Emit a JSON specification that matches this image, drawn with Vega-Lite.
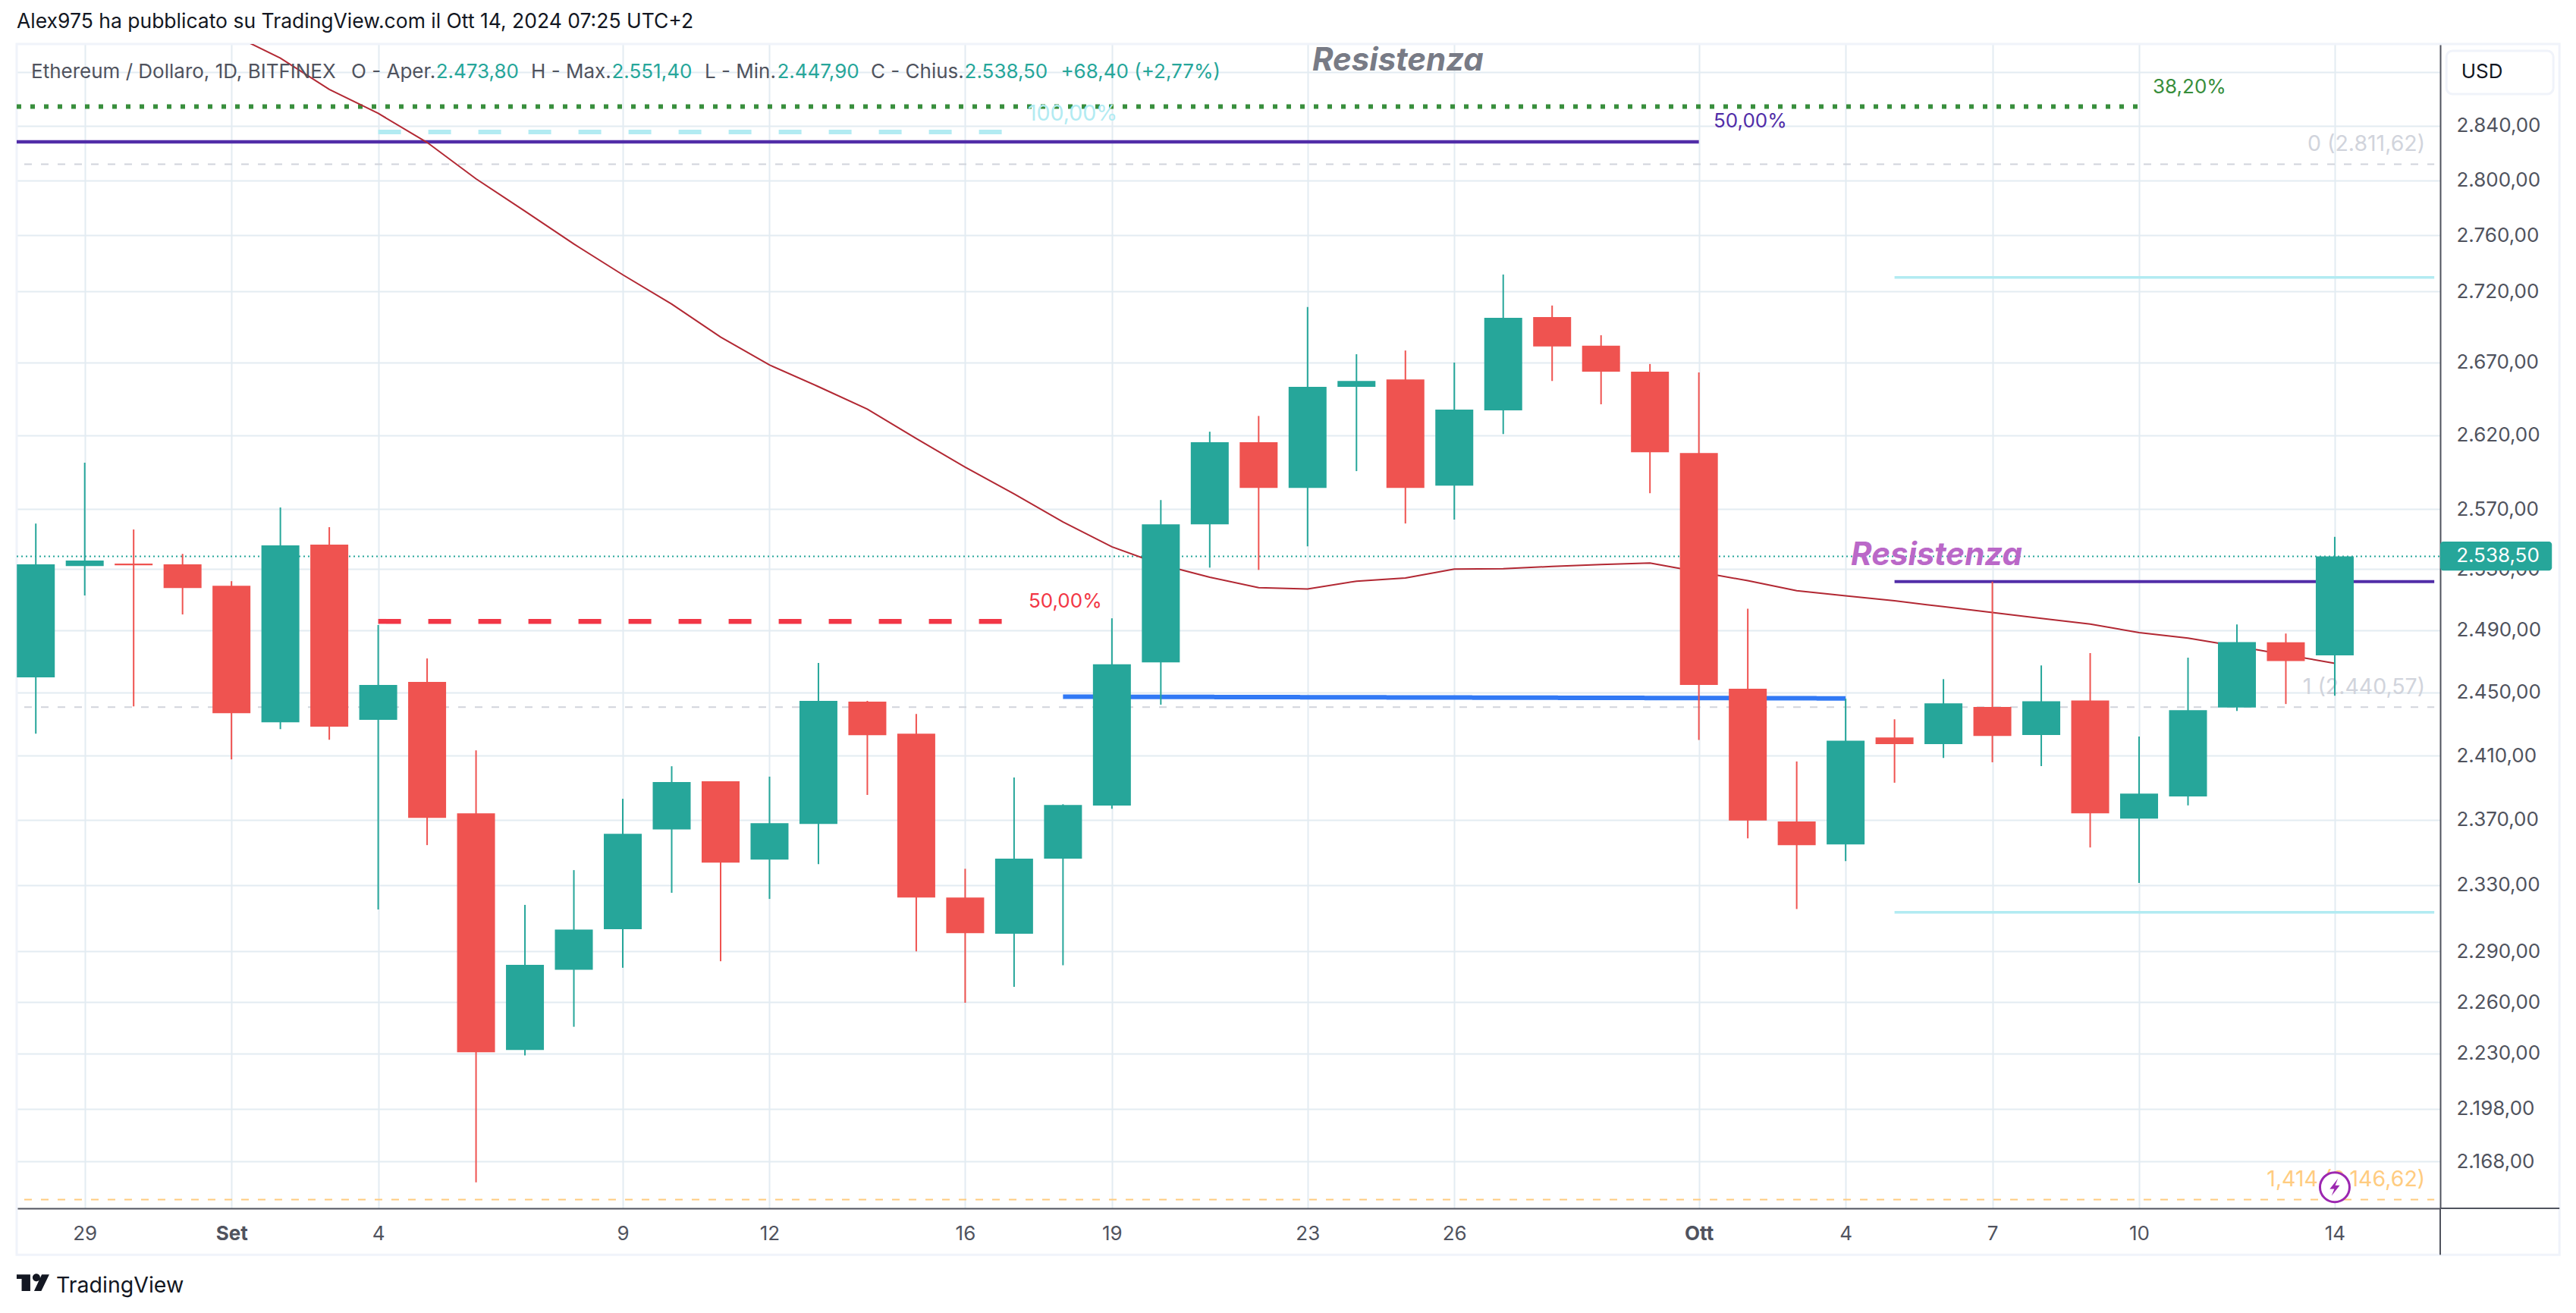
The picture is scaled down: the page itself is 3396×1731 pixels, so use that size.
{
"$schema":"https://vega.github.io/schema/vega-lite/v6.json",
"width":3195,"height":1535,
"autosize":{"type":"none"},
"padding":{"left":22,"top":58,"right":179,"bottom":138},
"background":"#ffffff",
"title":{"text":"Alex975 ha pubblicato su TradingView.com il Ott 14, 2024 07:25 UTC+2","anchor":"start","frame":"group","font":"Inter","fontSize":26.5,"fontWeight":"normal","color":"#131722","offset":14},
"config":{"view":{"stroke":null},
"axis":{"title":null,"labelFont":"Inter","labelFontSize":26,"labelColor":"#50535E","gridColor":"#E3ECF2","gridWidth":2,"domainColor":"#50535E","domainWidth":2,"ticks":false,"labelOverlap":false,"labelBound":false,"labelFlush":false}},
"datasets":{
"candles":[
{"date":"2024-08-28T00:00:00Z","open":2459.6,"high":2560.3,"low":2423.8,"close":2533.2},
{"date":"2024-08-29T00:00:00Z","open":2532.1,"high":2601.2,"low":2512.7,"close":2535.7},
{"date":"2024-08-30T00:00:00Z","open":2533.7,"high":2556.3,"low":2441.1,"close":2532.6},
{"date":"2024-08-31T00:00:00Z","open":2533.2,"high":2540.1,"low":2500.3,"close":2517.6},
{"date":"2024-09-01T00:00:00Z","open":2519.1,"high":2522.1,"low":2407.6,"close":2436.8},
{"date":"2024-09-02T00:00:00Z","open":2431.0,"high":2571.0,"low":2426.7,"close":2545.7},
{"date":"2024-09-03T00:00:00Z","open":2546.2,"high":2557.8,"low":2420.0,"close":2428.2},
{"date":"2024-09-04T00:00:00Z","open":2432.5,"high":2493.4,"low":2315.2,"close":2454.8},
{"date":"2024-09-05T00:00:00Z","open":2456.7,"high":2471.8,"low":2354.4,"close":2371.2},
{"date":"2024-09-06T00:00:00Z","open":2374.0,"high":2413.3,"low":2156.3,"close":2230.6},
{"date":"2024-09-07T00:00:00Z","open":2232.0,"high":2318.0,"low":2228.8,"close":2282.0},
{"date":"2024-09-08T00:00:00Z","open":2279.1,"high":2339.1,"low":2245.5,"close":2303.1},
{"date":"2024-09-09T00:00:00Z","open":2303.4,"high":2383.0,"low":2280.3,"close":2361.4},
{"date":"2024-09-10T00:00:00Z","open":2364.0,"high":2403.3,"low":2325.3,"close":2393.4},
{"date":"2024-09-11T00:00:00Z","open":2393.9,"high":2393.9,"low":2284.2,"close":2343.7},
{"date":"2024-09-12T00:00:00Z","open":2345.5,"high":2396.8,"low":2321.6,"close":2367.9},
{"date":"2024-09-13T00:00:00Z","open":2367.4,"high":2468.9,"low":2342.7,"close":2444.6},
{"date":"2024-09-14T00:00:00Z","open":2444.1,"high":2444.6,"low":2385.4,"close":2422.8},
{"date":"2024-09-15T00:00:00Z","open":2423.8,"high":2436.3,"low":2290.1,"close":2322.4},
{"date":"2024-09-16T00:00:00Z","open":2322.4,"high":2339.9,"low":2259.6,"close":2301.0},
{"date":"2024-09-17T00:00:00Z","open":2300.6,"high":2396.3,"low":2269.0,"close":2346.1},
{"date":"2024-09-18T00:00:00Z","open":2346.1,"high":2379.6,"low":2281.8,"close":2379.2},
{"date":"2024-09-19T00:00:00Z","open":2378.8,"high":2497.8,"low":2376.8,"close":2468.0},
{"date":"2024-09-20T00:00:00Z","open":2469.3,"high":2576.0,"low":2442.2,"close":2559.8},
{"date":"2024-09-21T00:00:00Z","open":2559.8,"high":2622.3,"low":2531.0,"close":2615.1},
{"date":"2024-09-22T00:00:00Z","open":2615.1,"high":2633.1,"low":2529.5,"close":2584.1},
{"date":"2024-09-23T00:00:00Z","open":2584.1,"high":2708.9,"low":2545.1,"close":2653.2},
{"date":"2024-09-24T00:00:00Z","open":2653.2,"high":2675.8,"low":2595.5,"close":2657.2},
{"date":"2024-09-25T00:00:00Z","open":2658.3,"high":2678.4,"low":2560.3,"close":2584.1},
{"date":"2024-09-26T00:00:00Z","open":2585.7,"high":2670.0,"low":2562.9,"close":2637.4},
{"date":"2024-09-27T00:00:00Z","open":2636.9,"high":2732.0,"low":2620.7,"close":2701.3},
{"date":"2024-09-28T00:00:00Z","open":2701.8,"high":2710.0,"low":2657.2,"close":2681.2},
{"date":"2024-09-29T00:00:00Z","open":2681.7,"high":2689.1,"low":2641.1,"close":2663.6},
{"date":"2024-09-30T00:00:00Z","open":2663.6,"high":2669.0,"low":2580.6,"close":2608.3},
{"date":"2024-10-01T00:00:00Z","open":2607.8,"high":2663.1,"low":2419.9,"close":2454.8},
{"date":"2024-10-02T00:00:00Z","open":2452.3,"high":2504.1,"low":2358.6,"close":2369.5},
{"date":"2024-10-03T00:00:00Z","open":2368.9,"high":2406.3,"low":2315.5,"close":2354.4},
{"date":"2024-10-04T00:00:00Z","open":2354.8,"high":2446.0,"low":2344.6,"close":2419.4},
{"date":"2024-10-05T00:00:00Z","open":2421.4,"high":2432.9,"low":2393.0,"close":2417.2},
{"date":"2024-10-06T00:00:00Z","open":2417.2,"high":2458.5,"low":2408.5,"close":2443.0},
{"date":"2024-10-07T00:00:00Z","open":2440.8,"high":2521.8,"low":2405.8,"close":2422.4},
{"date":"2024-10-08T00:00:00Z","open":2422.9,"high":2467.3,"low":2403.4,"close":2444.4},
{"date":"2024-10-09T00:00:00Z","open":2444.9,"high":2475.2,"low":2353.0,"close":2374.0},
{"date":"2024-10-10T00:00:00Z","open":2370.7,"high":2422.0,"low":2331.3,"close":2386.2},
{"date":"2024-10-11T00:00:00Z","open":2384.4,"high":2472.3,"low":2378.9,"close":2438.7},
{"date":"2024-10-12T00:00:00Z","open":2440.4,"high":2493.8,"low":2438.2,"close":2482.4},
{"date":"2024-10-13T00:00:00Z","open":2482.2,"high":2487.9,"low":2442.6,"close":2470.1},
{"date":"2024-10-14T00:00:00Z","open":2473.8,"high":2551.4,"low":2447.9,"close":2538.5}
],
"ma":[
{"date":"2024-09-01T00:00:00Z","price":2908.7},{"date":"2024-09-02T00:00:00Z","price":2890.5},{"date":"2024-09-03T00:00:00Z","price":2867.1},{"date":"2024-09-04T00:00:00Z","price":2849.2},{"date":"2024-09-05T00:00:00Z","price":2827.7},{"date":"2024-09-06T00:00:00Z","price":2801.0},{"date":"2024-09-07T00:00:00Z","price":2777.5},{"date":"2024-09-08T00:00:00Z","price":2753.8},{"date":"2024-09-09T00:00:00Z","price":2731.8},{"date":"2024-09-10T00:00:00Z","price":2711.0},{"date":"2024-09-11T00:00:00Z","price":2687.8},{"date":"2024-09-12T00:00:00Z","price":2668.3},{"date":"2024-09-13T00:00:00Z","price":2653.3},{"date":"2024-09-14T00:00:00Z","price":2637.8},{"date":"2024-09-15T00:00:00Z","price":2617.7},{"date":"2024-09-16T00:00:00Z","price":2598.2},{"date":"2024-09-17T00:00:00Z","price":2580.1},{"date":"2024-09-18T00:00:00Z","price":2561.3},{"date":"2024-09-19T00:00:00Z","price":2544.8},{"date":"2024-09-20T00:00:00Z","price":2533.1},{"date":"2024-09-21T00:00:00Z","price":2524.7},{"date":"2024-09-22T00:00:00Z","price":2517.8},{"date":"2024-09-23T00:00:00Z","price":2517.0},{"date":"2024-09-24T00:00:00Z","price":2522.1},{"date":"2024-09-25T00:00:00Z","price":2524.2},{"date":"2024-09-26T00:00:00Z","price":2530.0},{"date":"2024-09-27T00:00:00Z","price":2530.3},{"date":"2024-09-28T00:00:00Z","price":2531.8},{"date":"2024-09-29T00:00:00Z","price":2533.1},{"date":"2024-09-30T00:00:00Z","price":2534.1},{"date":"2024-10-01T00:00:00Z","price":2528.2},{"date":"2024-10-02T00:00:00Z","price":2522.4},{"date":"2024-10-03T00:00:00Z","price":2515.8},{"date":"2024-10-04T00:00:00Z","price":2512.5},{"date":"2024-10-05T00:00:00Z","price":2509.2},{"date":"2024-10-06T00:00:00Z","price":2505.4},{"date":"2024-10-07T00:00:00Z","price":2501.6},{"date":"2024-10-08T00:00:00Z","price":2497.8},{"date":"2024-10-09T00:00:00Z","price":2494.0},{"date":"2024-10-10T00:00:00Z","price":2488.5},{"date":"2024-10-11T00:00:00Z","price":2484.9},{"date":"2024-10-12T00:00:00Z","price":2479.7},{"date":"2024-10-13T00:00:00Z","price":2474.2},{"date":"2024-10-14T00:00:00Z","price":2468.7}
],
"levels":[
{"series":"fib382","date":"2024-08-27T14:37:00Z","price":2854.2},{"series":"fib382","date":"2024-10-10T00:00:00Z","price":2854.2},
{"series":"fib100","date":"2024-09-04T00:00:00Z","price":2835.4},{"series":"fib100","date":"2024-09-17T00:00:00Z","price":2835.4},
{"series":"fib50","date":"2024-08-27T14:37:00Z","price":2828.2},{"series":"fib50","date":"2024-10-01T00:00:00Z","price":2828.2},
{"series":"red50","date":"2024-09-04T00:00:00Z","price":2495.8},{"series":"red50","date":"2024-09-17T00:00:00Z","price":2495.8},
{"series":"fib0","date":"2024-08-27T18:20:00Z","price":2811.62},{"series":"fib0","date":"2024-10-16T00:50:00Z","price":2811.62},
{"series":"fib1","date":"2024-08-27T18:20:00Z","price":2440.57},{"series":"fib1","date":"2024-10-16T00:50:00Z","price":2440.57},
{"series":"fib1414","date":"2024-08-27T18:20:00Z","price":2146.62},{"series":"fib1414","date":"2024-10-16T00:50:00Z","price":2146.62},
{"series":"blue","date":"2024-09-18T00:00:00Z","price":2447.3},{"series":"blue","date":"2024-10-04T00:00:00Z","price":2446.2},
{"series":"resLine","date":"2024-10-05T00:00:00Z","price":2521.8},{"series":"resLine","date":"2024-10-16T00:50:00Z","price":2521.8},
{"series":"cyanTop","date":"2024-10-05T00:00:00Z","price":2729.9},{"series":"cyanTop","date":"2024-10-16T00:50:00Z","price":2729.9},
{"series":"cyanBottom","date":"2024-10-05T00:00:00Z","price":2313.5},{"series":"cyanBottom","date":"2024-10-16T00:50:00Z","price":2313.5},
{"series":"last","date":"2024-08-27T14:37:00Z","price":2538.5},{"series":"last","date":"2024-10-16T03:45:00Z","price":2538.5},
{"series":"axisX","date":"2024-10-16T03:45:00Z","price":2141.7},{"series":"axisX","date":"2024-10-18T14:15:00Z","price":2141.7},
{"series":"axisY","date":"2024-10-16T03:45:00Z","price":2141.7},{"series":"axisY","date":"2024-10-16T03:45:00Z","price":2115.9}
],
"leftText":[
{"series":"legend","text":"Ethereum / Dollaro, 1D, BITFINEX","date":"2024-08-27T21:42:00Z","price":2880},
{"series":"legend","text":"O - Aper.","date":"2024-09-03T10:45:00Z","price":2880},
{"series":"value","text":"2.473,80","date":"2024-09-05T04:18:00Z","price":2880},
{"series":"legend","text":"H - Max.","date":"2024-09-07T03:00:00Z","price":2880},
{"series":"value","text":"2.551,40","date":"2024-09-08T18:36:00Z","price":2880},
{"series":"legend","text":"L - Min.","date":"2024-09-10T16:12:00Z","price":2880},
{"series":"value","text":"2.447,90","date":"2024-09-12T03:42:00Z","price":2880},
{"series":"legend","text":"C - Chius.","date":"2024-09-14T01:42:00Z","price":2880},
{"series":"value","text":"2.538,50","date":"2024-09-15T23:42:00Z","price":2880},
{"series":"value","text":"+68,40 (+2,77%)","date":"2024-09-17T22:54:00Z","price":2880},
{"series":"red50","text":"50,00%","date":"2024-09-17T07:06:00Z","price":2508.8},
{"series":"fib50","text":"50,00%","date":"2024-10-01T07:12:00Z","price":2843.3},
{"series":"fib382","text":"38,20%","date":"2024-10-10T06:42:00Z","price":2868.7}
],
"rightText":[
{"series":"fib100","text":"100,00%","date":"2024-09-19T02:44:00Z","price":2848.9},
{"series":"fib0","text":"0 (2.811,62)","date":"2024-10-15T20:22:00Z","price":2826.5},
{"series":"fib1","text":"1 (2.440,57)","date":"2024-10-15T20:22:00Z","price":2453.2},
{"series":"fib1414","text":"1,414 (2.146,62)","date":"2024-10-15T20:22:00Z","price":2157.7}
],
"frame":[{"start":"2024-08-27T14:37:00Z","end":"2024-10-18T14:15:00Z","low":2115.9,"high":2901.2}],
"usdBox":[{"start":"2024-10-16T06:47:00Z","end":"2024-10-18T11:16:00Z","low":2863.6,"high":2896.0}],
"tagBox":[{"start":"2024-10-16T03:45:00Z","end":"2024-10-18T10:33:00Z","low":2529.1,"high":2548.2}]
},
"layer":[
{"data":{"name":"frame"},"mark":{"type":"rect","fill":"transparent","stroke":"#F0F3FA","strokeWidth":3},
"encoding":{
"x":{"field":"start","type":"temporal","scale":{"type":"utc","domain":["2024-08-27T14:37:00Z","2024-10-16T03:45:00Z"],"nice":false,"padding":0},"axis":{"orient":"bottom","grid":true,"values":["2024-08-29T00:00:00Z","2024-09-01T00:00:00Z","2024-09-04T00:00:00Z","2024-09-09T00:00:00Z","2024-09-12T00:00:00Z","2024-09-16T00:00:00Z","2024-09-19T00:00:00Z","2024-09-23T00:00:00Z","2024-09-26T00:00:00Z","2024-10-01T00:00:00Z","2024-10-04T00:00:00Z","2024-10-07T00:00:00Z","2024-10-10T00:00:00Z","2024-10-14T00:00:00Z"],"labelExpr":"utcdate(datum.value)==1 ? (utcmonth(datum.value)==8 ? 'Set' : 'Ott') : '' + utcdate(datum.value)","labelPadding":20,"labelFontWeight":{"condition":{"test":"utcdate(datum.value)==1","value":"bold"},"value":"normal"}}},
"x2":{"field":"end"},
"y":{"field":"low","type":"quantitative","scale":{"type":"log","domain":[2141.7,2901.2],"nice":false,"zero":false,"padding":0},"axis":{"orient":"right","grid":true,"values":[2168,2198,2230,2260,2290,2330,2370,2410,2450,2490,2530,2570,2620,2670,2720,2760,2800,2840,2880],"labelExpr":"datum.value==2880 ? '' : replace(replace(replace(format(datum.value,',.2f'),',','#'),'.',','),'#','.')","labelPadding":21}},
"y2":{"field":"high"}}},
{"data":{"name":"levels"},"mark":{"type":"line","strokeCap":"butt"},
"encoding":{
"x":{"field":"date","type":"temporal"},
"y":{"field":"price","type":"quantitative"},
"color":{"field":"series","type":"nominal","legend":null,"scale":{"domain":["fib382","fib100","fib50","red50","fib0","fib1","fib1414","blue","resLine","cyanTop","cyanBottom","last","axisX","axisY","legend","value"],"range":["#388E3C","#B2EBF2","#512DA8","#F23645","#D1D4DC","#D1D4DC","#FFCC80","#3179F5","#512DA8","#B2EBF2","#B2EBF2","#26A69A","#50535E","#50535E","#50535E","#26A69A"]}},
"size":{"field":"series","type":"nominal","legend":null,"scale":{"type":"ordinal","domain":["fib382","fib100","fib50","red50","fib0","fib1","fib1414","blue","resLine","cyanTop","cyanBottom","last","axisX","axisY"],"range":[6,6,4.5,6.5,2,2,2,6,4,3.5,3.5,2,2,2]}},
"strokeDash":{"field":"series","type":"nominal","legend":null,"scale":{"domain":["fib382","fib100","fib50","red50","fib0","fib1","fib1414","blue","resLine","cyanTop","cyanBottom","last","axisX","axisY"],"range":[[6,12],[30,36],[1,0],[30,36],[10,12],[10,12],[10,12],[1,0],[1,0],[1,0],[1,0],[2,4],[1,0],[1,0]]}}}},
{"data":{"name":"ma"},"mark":{"type":"line","color":"#B22833","strokeWidth":2,"clip":true},
"encoding":{"x":{"field":"date","type":"temporal"},"y":{"field":"price","type":"quantitative"}}},
{"data":{"name":"leftText"},"mark":{"type":"text","align":"left","baseline":"middle","font":"Inter","fontSize":26},
"encoding":{"x":{"field":"date","type":"temporal"},"y":{"field":"price","type":"quantitative"},"text":{"field":"text"},
"color":{"field":"series","type":"nominal","legend":null,"scale":{"domain":["fib382","fib100","fib50","red50","fib0","fib1","fib1414","blue","resLine","cyanTop","cyanBottom","last","axisX","axisY","legend","value"],"range":["#388E3C","#B2EBF2","#512DA8","#F23645","#D1D4DC","#D1D4DC","#FFCC80","#3179F5","#512DA8","#B2EBF2","#B2EBF2","#26A69A","#50535E","#50535E","#50535E","#26A69A"]}}}},
{"data":{"name":"rightText"},"mark":{"type":"text","align":"right","baseline":"middle","font":"Inter","fontSize":28.5},
"encoding":{"x":{"field":"date","type":"temporal"},"y":{"field":"price","type":"quantitative"},"text":{"field":"text"},
"color":{"field":"series","type":"nominal","legend":null,"scale":{"domain":["fib382","fib100","fib50","red50","fib0","fib1","fib1414","blue","resLine","cyanTop","cyanBottom","last","axisX","axisY","legend","value"],"range":["#388E3C","#B2EBF2","#512DA8","#F23645","#D1D4DC","#D1D4DC","#FFCC80","#3179F5","#512DA8","#B2EBF2","#B2EBF2","#26A69A","#50535E","#50535E","#50535E","#26A69A"]}}}},
{"data":{"name":"candles"},"mark":{"type":"rule","strokeWidth":2,"clip":true},
"encoding":{"x":{"field":"date","type":"temporal"},"y":{"field":"low","type":"quantitative"},"y2":{"field":"high"},
"color":{"condition":{"test":"datum.close>=datum.open","value":"#26A69A"},"value":"#EF5350"}}},
{"data":{"name":"candles"},"mark":{"type":"bar","width":50,"clip":true},
"encoding":{"x":{"field":"date","type":"temporal"},"y":{"field":"open","type":"quantitative"},"y2":{"field":"close"},
"color":{"condition":{"test":"datum.close>=datum.open","value":"#26A69A"},"value":"#EF5350"}}},
{"data":{"values":[{"text":"Resistenza","date":"2024-09-23T02:18:00Z","price":2888.6}]},"mark":{"type":"text","align":"left","baseline":"middle","font":"Inter","fontSize":42,"fontWeight":"bold","fontStyle":"italic","color":"#787B86"},
"encoding":{"x":{"field":"date","type":"temporal"},"y":{"field":"price","type":"quantitative"},"text":{"field":"text"}}},
{"data":{"values":[{"text":"Resistenza","date":"2024-10-04T02:36:00Z","price":2539}]},"mark":{"type":"text","align":"left","baseline":"middle","font":"Inter","fontSize":42,"fontWeight":"bold","fontStyle":"italic","color":"#BA68C8"},
"encoding":{"x":{"field":"date","type":"temporal"},"y":{"field":"price","type":"quantitative"},"text":{"field":"text"}}},
{"data":{"name":"usdBox"},"mark":{"type":"rect","fill":"#ffffff","stroke":"#F0F3FA","strokeWidth":3,"cornerRadius":8},
"encoding":{"x":{"field":"start","type":"temporal"},"x2":{"field":"end"},"y":{"field":"low","type":"quantitative"},"y2":{"field":"high"}}},
{"data":{"values":[{"text":"USD","date":"2024-10-16T14:05:00Z","price":2880}]},"mark":{"type":"text","align":"left","baseline":"middle","font":"Inter","fontSize":26,"color":"#131722"},
"encoding":{"x":{"field":"date","type":"temporal"},"y":{"field":"price","type":"quantitative"},"text":{"field":"text"}}},
{"data":{"name":"tagBox"},"mark":{"type":"rect","fill":"#26A69A","cornerRadius":4},
"encoding":{"x":{"field":"start","type":"temporal"},"x2":{"field":"end"},"y":{"field":"low","type":"quantitative"},"y2":{"field":"high"}}},
{"data":{"values":[{"text":"2.538,50","date":"2024-10-16T11:37:00Z","price":2538.5}]},"mark":{"type":"text","align":"left","baseline":"middle","font":"Inter","fontSize":26,"color":"#ffffff"},
"encoding":{"x":{"field":"date","type":"temporal"},"y":{"field":"price","type":"quantitative"},"text":{"field":"text"}}},
{"data":{"values":[{"date":"2024-10-14T00:00:00Z","price":2153.5}]},"mark":{"type":"point","shape":"circle","filled":true,"fill":"#ffffff","stroke":"#9C27B0","strokeWidth":3,"opacity":1,"size":1520},
"encoding":{"x":{"field":"date","type":"temporal"},"y":{"field":"price","type":"quantitative"}}},
{"data":{"values":[{"date":"2024-10-14T00:00:00Z","price":2153.5}]},"mark":{"type":"point","shape":"M.35,-.95 L-.55,.2 H-.05 L-.35,.95 L.55,-.2 H.05 Z","filled":true,"color":"#9C27B0","opacity":1,"size":576},
"encoding":{"x":{"field":"date","type":"temporal"},"y":{"field":"price","type":"quantitative"}}},
{"data":{"values":[{"date":"2024-08-27T22:36:00Z","price":2100.5}]},"mark":{"type":"point","shape":"M-1,-.51 H-.163 V.5 H-.693 V-.24 H-1 Z M-.024,-.326 A.233,.233 0 1 1 .442,-.326 A.233,.233 0 1 1 -.024,-.326 Z M.54,-.51 H1 L.51,.5 H.07 Z","filled":true,"color":"#131722","opacity":1,"size":1849},
"encoding":{"x":{"field":"date","type":"temporal"},"y":{"field":"price","type":"quantitative"}}},
{"data":{"values":[{"text":"TradingView","date":"2024-08-28T10:00:00Z","price":2098.8}]},"mark":{"type":"text","align":"left","baseline":"middle","font":"Inter","fontSize":28.5,"color":"#131722"},
"encoding":{"x":{"field":"date","type":"temporal"},"y":{"field":"price","type":"quantitative"},"text":{"field":"text"}}}
]
}
